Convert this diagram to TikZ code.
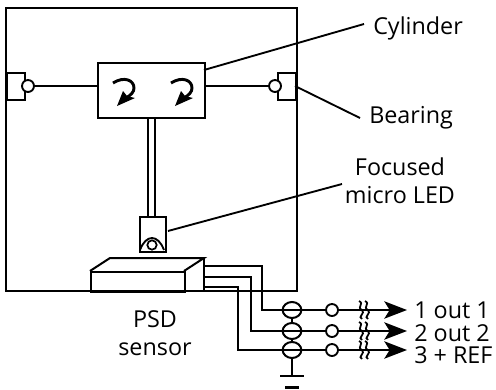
\documentclass[tikz,border=0pt]{standalone}
\usepackage{fontspec}
\setmainfont{Open Sans}
\usetikzlibrary{arrows.meta,calc,shapes.geometric}
\tikzset{
  x=0.75pt,y=-0.75pt,
  ln/.style={line width=1.6pt,line join=miter},
  thin ln/.style={line width=1.4pt},
  lbl/.style={font=\fontsize{17.5}{21}\selectfont,inner sep=0pt,text=black},
  ringa/.style={ellipse,draw,line width=1.5pt,minimum width=14pt,minimum height=12pt,inner sep=0pt,fill=none},
  ringb/.style={circle,draw,line width=1.4pt,minimum size=9pt,inner sep=0pt,fill=white},
  curl/.style={line width=2.2pt},
  curlhead/.style={fill=black,draw=none},
  outline/.style={line width=1.4pt,-{Stealth[length=17pt,width=13pt,inset=4pt]}},
  brk/.style={line width=1.3pt},
}
\begin{document}
\begin{tikzpicture}
\useasboundingbox (0,0) rectangle (496,389);
\fill[white] (0,0) rectangle (496,389);
\begin{scope}
\clip (0,0) rectangle (496,389);
% housing
\draw[ln] (6,8) rectangle (297,291);
% bearings
\node[draw,line width=1.4pt,inner sep=0pt,anchor=north west,minimum width=13.5pt,minimum height=20pt] (bl) at (6,72) {};
\node[draw,line width=1.4pt,inner sep=0pt,anchor=north east,minimum width=13.5pt,minimum height=20pt] (br) at (297,72) {};
\node[ringb] (rl) at (28,86) {};
\node[ringb] (rr) at (275,86) {};
% cylinder
\node[draw,line width=1.8pt,anchor=north west,minimum width=80pt,minimum height=41pt,inner sep=0pt] (cyl) at (97,62) {};
\draw[thin ln] (rl) -- (cyl.west |- rl);
\draw[thin ln] (rr) -- (cyl.east |- rr);
\foreach \dx in {0,58}{
  \begin{scope}[xshift=\dx*0.75pt]
  \draw[curl] (113,83) .. controls (124,76) and (134,80) .. (134,88) .. controls (134,92) and (131,95) .. (126,98);
  \fill[curlhead] (117,106) -- (123,91) -- (127,96) -- (135,98) -- cycle;
  \end{scope}
}
% LED
\node[draw,line width=1.6pt,anchor=north west,minimum width=19.5pt,minimum height=26.5pt,inner sep=0pt] (led) at (139,216) {};
\draw[line width=1.4pt] (140,250) .. controls (146,234) and (158,234) .. (164,250);
\node[circle,draw,line width=1.3pt,minimum size=7pt,inner sep=0pt] (lens) at (152,245) {};
% rod
\draw[thin ln] (148,117) -- (148,216);
\draw[thin ln] (155,117) -- (155,216);
% sensor
\node[draw,line width=1.5pt,anchor=north west,minimum width=70.5pt,minimum height=15pt,inner sep=0pt] (sf) at (90,271) {};
\draw[line width=1.5pt] (90,271) -- (110,258) -- (204,258) -- (184,271);
\draw[line width=1.5pt] (204,258) -- (204,291);
% coordinates
\coordinate (s1) at (204,266);
\coordinate (s2) at (204,277);
\coordinate (s3) at (204,287);
\coordinate (k1) at (262,310);
\coordinate (k2) at (251,331);
\coordinate (k3) at (238,350);
\node[ringa] (a1) at (292,310) {};
\node[ringa] (a2) at (292,331) {};
\node[ringa] (a3) at (292,350) {};
\node[ringb] (b1) at (332,310) {};
\node[ringb] (b2) at (332,331) {};
\node[ringb] (b3) at (332,350) {};
\node[lbl,anchor=west] (o1) at (414,310) {1 out 1};
\node[lbl,anchor=west] (o2) at (414,333) {2 out 2};
\node[lbl,anchor=west] (o3) at (414,355) {3 + REF};
\foreach \i in {1,2,3}{
  \draw[thin ln] (s\i) -| (k\i) -- (a\i.west);
  \draw[thin ln] (a\i.west) -- (b\i);
  \draw[outline] (b\i) -- ++(75,0);
  \draw[brk] ($(b\i)+(27,-9)$) .. controls +(6,3) and +(-6,-3) .. ++(3,9) .. controls +(4,3) and +(-5,-2) .. ++(0,9);
  \draw[brk] ($(b\i)+(33,-9)$) .. controls +(6,3) and +(-6,-3) .. ++(3,9) .. controls +(4,3) and +(-5,-2) .. ++(0,9);
}
\draw[thin ln] (a1) -- (a2) -- (a3);
% ground
\coordinate (g) at (292,376);
\draw[thin ln] (a3) -- (g);
\draw[line width=1.6pt] (280,376) -- (304,376);
\draw[line width=1.6pt] (285,387.5) -- (299,387.5);
% labels and leaders
\node[lbl,anchor=west] (tc) at (373,28) {Cylinder};
\node[lbl,anchor=west] (tb) at (369,118) {Bearing};
\node[lbl,align=center,anchor=north] (tf) at (400,158) {Focused\\micro LED};
\node[lbl,align=center,anchor=north] (tp) at (155,310) {PSD\\sensor};
\coordinate (c1) at (204,70);
\coordinate (c2) at (364,24);
\coordinate (b2a) at (295,86);
\coordinate (b2b) at (360,118);
\coordinate (l1) at (168,231);
\coordinate (l2) at (342,184);
\draw[thin ln] (c1) -- (c2);
\draw[thin ln] (b2a) -- (b2b);
\draw[thin ln] (l1) -- (l2);
\end{scope}
\end{tikzpicture}
\end{document}
